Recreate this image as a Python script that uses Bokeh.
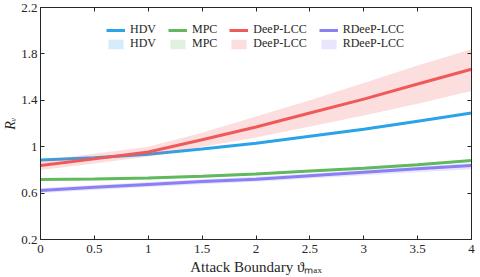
from bokeh.plotting import figure
from bokeh.models import Legend, LegendItem, LinearAxis, FixedTicker, Range1d, CustomJSTickFormatter
from bokeh.embed import file_html
from bokeh.resources import INLINE

x = [0, 0.5, 1, 1.5, 2, 2.5, 3, 3.5, 4]
hdv = [0.885, 0.905, 0.935, 0.98, 1.03, 1.09, 1.15, 1.22, 1.29]
hdv_lo = [0.88, 0.90, 0.93, 0.975, 1.025, 1.085, 1.145, 1.215, 1.285]
hdv_hi = [0.89, 0.91, 0.94, 0.985, 1.035, 1.095, 1.155, 1.225, 1.295]
mpc = [0.718, 0.722, 0.73, 0.745, 0.765, 0.79, 0.815, 0.845, 0.88]
mpc_lo = [0.708, 0.712, 0.72, 0.735, 0.755, 0.78, 0.805, 0.835, 0.87]
mpc_hi = [0.728, 0.732, 0.74, 0.755, 0.775, 0.80, 0.825, 0.855, 0.89]
deep = [0.838, 0.895, 0.955, 1.06, 1.17, 1.29, 1.41, 1.54, 1.668]
deep_lo = [0.80, 0.855, 0.915, 1.0, 1.08, 1.175, 1.27, 1.37, 1.48]
deep_hi = [0.88, 0.94, 1.0, 1.12, 1.26, 1.40, 1.55, 1.70, 1.84]
rdeep = [0.623, 0.65, 0.675, 0.70, 0.72, 0.75, 0.78, 0.81, 0.838]
rdeep_lo = [0.60, 0.627, 0.652, 0.677, 0.697, 0.725, 0.753, 0.78, 0.805]
rdeep_hi = [0.643, 0.67, 0.695, 0.72, 0.74, 0.77, 0.80, 0.83, 0.86]
x_ticks = [0, 0.5, 1, 1.5, 2, 2.5, 3, 3.5, 4]
y_ticks = [0.2, 0.6, 1.0, 1.4, 1.8, 2.2]

names = ["HDV", "MPC", "DeeP-LCC", "RDeeP-LCC"]
colors = ["#2ba3e8", "#62b95d", "#f0595a", "#8b7ff3"]
series = [(hdv, hdv_lo, hdv_hi), (mpc, mpc_lo, mpc_hi), (deep, deep_lo, deep_hi), (rdeep, rdeep_lo, rdeep_hi)]

FONT = "Liberation Serif"
DARK = "#262626"
p = figure(width=480, height=277, output_backend="svg", toolbar_location=None,
           x_range=Range1d(0, 4), y_range=Range1d(0.2, 2.2),
           min_border_left=30, min_border_right=9, min_border_top=7, min_border_bottom=0)
p.grid.visible = False
p.outline_line_color = DARK
p.outline_line_width = 1

fmt = CustomJSTickFormatter(code="return (Math.round(tick*10)/10).toString();")
for ax in [p.xaxis[0], p.yaxis[0]]:
    ax.major_tick_in = 4
    ax.major_tick_out = 0
    ax.minor_tick_line_color = None
    ax.axis_line_color = DARK
    ax.major_tick_line_color = DARK
    ax.major_label_text_font = FONT
    ax.major_label_text_font_size = "13px"
    ax.major_label_text_color = DARK
    ax.axis_label_text_font = FONT
    ax.axis_label_text_font_size = "15px"
    ax.axis_label_text_font_style = "normal"
    ax.axis_label_text_color = DARK
    ax.formatter = fmt
p.xaxis[0].ticker = FixedTicker(ticks=x_ticks)
p.yaxis[0].ticker = FixedTicker(ticks=y_ticks)
p.xaxis[0].major_label_standoff = 5
p.yaxis[0].major_label_standoff = 3
p.xaxis[0].axis_label = "Attack Boundary ϑₘₐₓ"
p.xaxis[0].axis_label_standoff = 3
p.yaxis[0].axis_label = "Rᵥ"
p.yaxis[0].axis_label_text_font_size = "14px"
p.yaxis[0].axis_label_text_font_style = "italic"
p.yaxis[0].axis_label_standoff = 0

for loc, tk in [("above", x_ticks), ("right", y_ticks)]:
    ax = LinearAxis(ticker=FixedTicker(ticks=tk), major_tick_in=4, major_tick_out=0,
                    minor_tick_line_color=None, major_label_text_color=None,
                    major_label_text_font_size="1px",
                    major_label_standoff=0, axis_line_color=DARK,
                    major_tick_line_color=DARK)
    p.add_layout(ax, loc)

line_items = []
band_items = []
for name, col, (m, lo, hi) in zip(names, colors, series):
    b = p.varea(x=x, y1=lo, y2=hi, fill_color=col, fill_alpha=0.2)
    l = p.line(x=x, y=m, line_color=col, line_width=3)
    line_items.append(LegendItem(label=name, renderers=[l]))
    band_items.append(LegendItem(label=name, renderers=[b]))

common = dict(orientation="horizontal", border_line_color=None, background_fill_alpha=0,
              label_text_font=FONT, label_text_font_size="12px", label_text_color=DARK,
              glyph_width=19, glyph_height=12, spacing=12, padding=0, margin=0,
              label_standoff=5, label_height=12)
leg1 = Legend(items=line_items, location=(66, 202), **common)
leg2 = Legend(items=band_items, location=(66, 188), **common)
p.add_layout(leg1, "center")
p.add_layout(leg2, "center")

open("out.html", "w").write(file_html(p, INLINE))
